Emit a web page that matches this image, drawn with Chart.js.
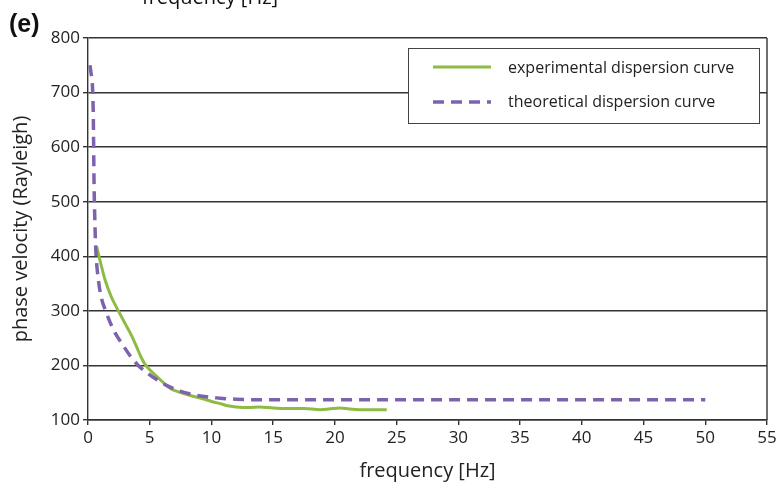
<!DOCTYPE html>
<html>
<head>
<meta charset="utf-8">
<script src="https://cdn.jsdelivr.net/npm/chart.js@4.4.1/dist/chart.umd.min.js"></script>
<style>
  html, body { margin: 0; padding: 0; background: #fff; }
  #wrap { width: 780px; height: 483px; }
</style>
</head>
<body>
<div id="wrap"><canvas id="graph" width="780" height="483"></canvas></div>
<script>
// experimental dispersion curve
var freqExp = [0.7, 0.89, 1.38, 1.9, 2.46, 3.0, 3.5, 3.94, 4.3, 4.6, 5.0, 5.8, 6.64, 7.4, 8.3, 9.3, 10.0, 10.7, 11.3, 12.0, 13.0, 13.9, 15.0, 16.1, 17.5, 18.8, 19.5, 20.4, 21.2, 22.0, 23.0, 24.2];
var velExp  = [418, 400, 357, 325, 300, 277, 256, 234, 215, 203, 192, 175, 158, 151, 145, 139, 134, 130, 126, 124, 123, 124, 122, 121, 121, 119, 120, 122, 120, 119, 119, 119];

// theoretical dispersion curve
var freqTheo = [0.16, 0.25, 0.35, 0.43, 0.49, 0.55, 0.6, 0.66, 0.84, 1.05, 1.43, 2.05, 2.86, 3.5, 4.07, 4.75, 5.5, 6.4, 7.45, 9.1, 10.7, 12.0, 14.0, 17.0, 25.0, 35.0, 50.0];
var velTheo  = [750, 735, 717, 656, 534, 470, 430, 400, 357, 327, 300, 266, 236, 215, 200, 187, 175, 163, 153, 144, 140, 138, 137, 137, 137, 137, 137];

var legendLabels = ['experimental dispersion curve', 'theoretical dispersion curve'];

var green = '#8dbb43';
var purple = '#7d62ad';
var gridCol = '#333333';
var textCol = '#222222';
var tickFont = '"Comic Sans MS", "Open Sans", sans-serif';

function pts(xs, ys) {
  return xs.map(function (x, i) { return { x: x, y: ys[i] }; });
}

// frame, legend box, panel letter
var extras = {
  id: 'extras',
  afterDraw: function (chart) {
    var c = chart.ctx;
    var a = chart.chartArea;
    c.save();
    c.strokeStyle = gridCol;
    c.lineWidth = 1.4;
    c.beginPath();
    c.moveTo(a.right, a.top);
    c.lineTo(a.right, a.bottom);
    c.stroke();

    // legend
    var bx = 408, by = 48, bw = 351, bh = 75;
    c.fillStyle = '#fff';
    c.fillRect(bx, by, bw, bh);
    c.lineWidth = 1;
    c.strokeStyle = '#444';
    c.strokeRect(bx + 0.5, by + 0.5, bw, bh);

    c.lineWidth = 3;
    c.strokeStyle = green;
    c.beginPath();
    c.moveTo(433, 67);
    c.lineTo(491, 67);
    c.stroke();

    c.lineWidth = 3.5;
    c.strokeStyle = purple;
    c.setLineDash([11, 7]);
    c.beginPath();
    c.moveTo(433, 102);
    c.lineTo(491, 102);
    c.stroke();
    c.setLineDash([]);

    c.fillStyle = textCol;
    c.font = '16px ' + tickFont;
    c.textBaseline = 'middle';
    c.textAlign = 'left';
    c.fillText(legendLabels[0], 508, 68);
    c.fillText(legendLabels[1], 508, 102);

    // panel letter and clipped caption from the panel above
    c.font = 'bold 25px "Liberation Sans", Arial, sans-serif';
    c.fillStyle = '#111';
    c.textBaseline = 'alphabetic';
    c.fillText('(e)', 9, 32);
    c.font = '20px ' + tickFont;
    c.textAlign = 'center';
    c.fillText('frequency [Hz]', 210, 4);
    c.restore();
  }
};

new Chart(document.getElementById('graph'), {
  type: 'scatter',
  plugins: [extras],
  data: {
    datasets: [
      {
        label: legendLabels[0],
        data: pts(freqExp, velExp),
        showLine: true,
        borderColor: green,
        borderWidth: 3,
        pointRadius: 0,
        cubicInterpolationMode: 'monotone',
        order: 2
      },
      {
        label: legendLabels[1],
        data: pts(freqTheo, velTheo),
        showLine: true,
        borderColor: purple,
        borderWidth: 3.5,
        borderDash: [11, 7],
        pointRadius: 0,
        cubicInterpolationMode: 'monotone',
        order: 1
      }
    ]
  },
  options: {
    responsive: false,
    animation: false,
    layout: {
      padding: { top: 38, right: 13, left: 0, bottom: 0 }
    },
    scales: {
      x: {
        type: 'linear',
        min: 0,
        max: 55,
        afterFit: function (s) { s.height = 63; },
        ticks: {
          stepSize: 5,
          color: textCol,
          padding: 3,
          maxRotation: 0,
          font: { family: tickFont, size: 17 }
        },
        grid: {
          drawOnChartArea: false,
          drawTicks: true,
          tickLength: 5,
          color: gridCol,
          lineWidth: 1.4
        },
        border: { display: true, color: gridCol, width: 1.4 },
        title: {
          display: true,
          text: 'frequency [Hz]',
          color: textCol,
          font: { family: tickFont, size: 20 },
          padding: { top: 0, bottom: 0 }
        }
      },
      y: {
        min: 100,
        max: 800,
        afterFit: function (s) { s.width = 88; },
        ticks: {
          stepSize: 100,
          color: textCol,
          padding: 3,
          font: { family: tickFont, size: 17 }
        },
        grid: {
          drawTicks: true,
          tickLength: 5,
          color: gridCol,
          lineWidth: 1.4
        },
        border: { display: true, color: gridCol, width: 1.4 },
        title: {
          display: true,
          text: 'phase velocity (Rayleigh)',
          color: textCol,
          font: { family: tickFont, size: 20 },
          padding: { top: 9, bottom: 0 }
        }
      }
    },
    plugins: {
      legend: { display: false },
      tooltip: { enabled: false }
    }
  }
});
</script>
</body>
</html>
